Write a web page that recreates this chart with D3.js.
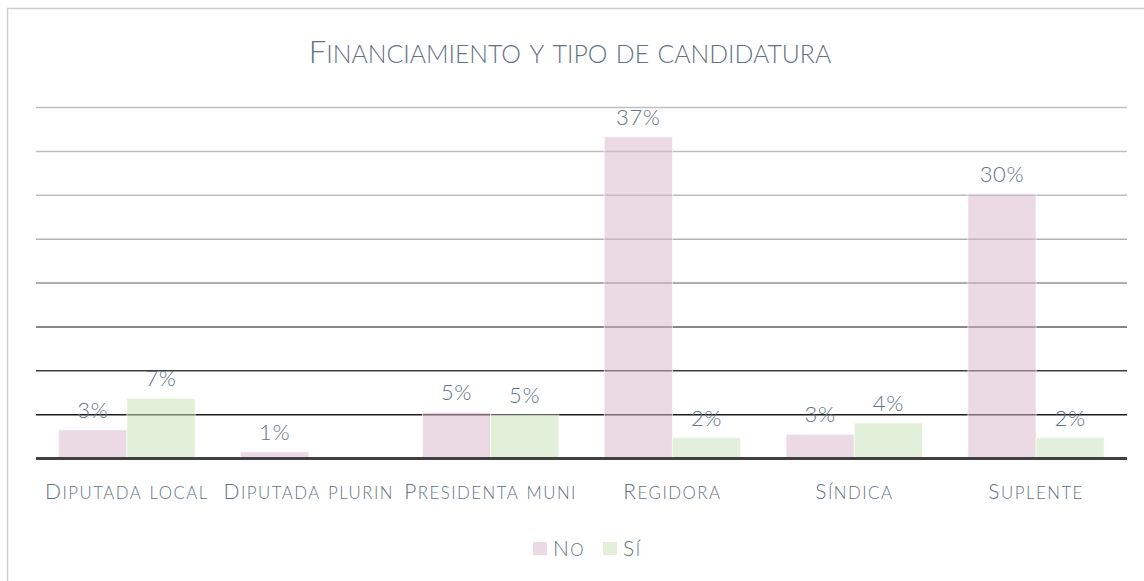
<!DOCTYPE html>
<html>
<head>
<meta charset="utf-8">
<script src="https://cdn.jsdelivr.net/npm/d3@7"></script>
<style>
  html, body { margin: 0; padding: 0; background: #ffffff; }
  svg { display: block; }
  text { font-family: Lato, "Open Sans", sans-serif; fill: #637381; }
</style>
</head>
<body>
<svg id="chart" width="1144" height="581"></svg>
<script>
// Chart data: share of candidates by candidacy type, split by financing received
const categories = ["Diputada local", "Diputada plurin", "Presidenta muni", "Regidora", "Síndica", "Suplente"];
const seriesNames = ["No", "Sí"];
const valuesNo = [0.032, 0.007, 0.052, 0.366, 0.027, 0.301];
const valuesSi = [0.068, 0, 0.049, 0.023, 0.040, 0.023];
const gridTicks = [0.05, 0.10, 0.15, 0.20, 0.25, 0.30, 0.35, 0.40];
const titleText = "Financiamiento y tipo de candidatura";

const svg = d3.select("#chart");
const W = 1144, H = 581;
const margin = { left: 36, right: 17, top: 107, bottom: 123 };
const plotW = W - margin.left - margin.right;
const baseY = H - margin.bottom;

// Small caps: capitals at full size, lower-case letters as smaller capitals
function smallCaps(sel, str, size, ratio) {
  sel.text(null);
  const runs = [];
  for (const ch of str) {
    const big = ch !== ch.toLowerCase() || !/\p{L}/u.test(ch);
    const last = runs[runs.length - 1];
    if (last && last.big === big) last.s += ch; else runs.push({ big, s: ch });
  }
  runs.forEach(r => {
    sel.append("tspan")
      .style("font-size", (r.big ? size : size * ratio) + "px")
      .text(r.s.toUpperCase());
  });
}

// outer frame
svg.append("rect")
  .attr("x", 7.5).attr("y", 8.5)
  .attr("width", 1160).attr("height", 600)
  .attr("fill", "none")
  .attr("stroke", "#cfcfcf")
  .attr("stroke-width", 1.5);

// title
svg.append("text")
  .attr("x", 570).attr("y", 63)
  .attr("text-anchor", "middle")
  .style("font-weight", 300)
  .call(smallCaps, titleText, 31, 0.8);

const x0 = d3.scaleBand()
  .domain(categories)
  .range([margin.left, margin.left + plotW])
  .paddingInner(0.25)
  .paddingOuter(0.125);

const x1 = d3.scaleBand()
  .domain(seriesNames)
  .range([0, x0.bandwidth()]);

const y = d3.scaleLinear()
  .domain([0, 0.40])
  .range([baseY, margin.top]);

const color = d3.scaleOrdinal()
  .domain(seriesNames)
  .range(["#d7b3c8", "#c6e0b4"]);

// gridlines darken toward the base
const gridColor = d3.scaleLinear()
  .domain([0.05, 0.10, 0.15, 0.20, 0.25, 0.30, 0.40])
  .range(["#1c1c1c", "#3e3e3e", "#5e5e5e", "#939393", "#b2b2b2", "#bdbdbd", "#c0c0c0"]);

const yAxis = d3.axisLeft(y).tickValues(gridTicks).tickSize(-plotW).tickFormat("");
const gAxis = svg.append("g")
  .attr("transform", `translate(${margin.left},0)`)
  .call(yAxis);
gAxis.select(".domain").remove();
gAxis.selectAll(".tick line")
  .attr("stroke", d => gridColor(d))
  .attr("stroke-width", 1.5);

// bars
const rows = categories.map((c, i) => ({ cat: c, vals: [
  { key: "No", v: valuesNo[i] },
  { key: "Sí", v: valuesSi[i] }
]}));

const groups = svg.append("g").selectAll("g")
  .data(rows).join("g")
  .attr("transform", d => `translate(${x0(d.cat)},0)`);

groups.selectAll("rect")
  .data(d => d.vals.filter(e => e.v > 0))
  .join("rect")
  .attr("x", d => x1(d.key))
  .attr("y", d => y(d.v))
  .attr("width", x1.bandwidth())
  .attr("height", d => baseY - y(d.v))
  .attr("fill", d => color(d.key))
  .attr("fill-opacity", 0.5)
  .attr("stroke", "#ffffff")
  .attr("stroke-opacity", 0.6)
  .attr("stroke-width", 1);

const fmt = d3.format(".0%");
groups.selectAll("text.lbl")
  .data(d => d.vals.filter(e => e.v > 0))
  .join("text")
  .attr("class", "lbl")
  .attr("x", d => x1(d.key) + x1.bandwidth() / 2)
  .attr("y", d => y(d.v) - 12)
  .attr("text-anchor", "middle")
  .style("font-size", "22px")
  .style("letter-spacing", "0.6px")
  .style("font-weight", 300)
  .text(d => fmt(d.v));

// base axis line
svg.append("line")
  .attr("x1", margin.left).attr("x2", margin.left + plotW)
  .attr("y1", baseY + 0.5).attr("y2", baseY + 0.5)
  .attr("stroke", "#404040")
  .attr("stroke-width", 3);

// category labels
const xAxis = d3.axisBottom(x0).tickSize(0).tickPadding(0).tickFormat("");
const gx = svg.append("g")
  .attr("transform", `translate(0,${baseY})`)
  .call(xAxis);
gx.select(".domain").remove();
gx.selectAll(".tick text").remove();
gx.selectAll(".tick").append("text")
  .attr("y", 41)
  .attr("text-anchor", "middle")
  .style("font-weight", 300)
  .style("letter-spacing", "1.5px")
  .each(function(d) { d3.select(this).call(smallCaps, d, 21, 0.8); });

// legend
const legend = svg.append("g").attr("transform", "translate(533,548)");
const legendItems = legend.selectAll("g")
  .data(seriesNames).join("g")
  .attr("transform", (d, i) => `translate(${i * 70},0)`);
legendItems.append("rect")
  .attr("x", 0).attr("y", -6)
  .attr("width", 14).attr("height", 13)
  .attr("fill", d => color(d))
  .attr("fill-opacity", 0.5);
legendItems.append("text")
  .attr("x", 20).attr("y", 8)
  .style("font-weight", 300)
  .style("letter-spacing", "1.4px")
  .each(function(d) { d3.select(this).call(smallCaps, d, 21, 0.8); });
</script>
</body>
</html>
